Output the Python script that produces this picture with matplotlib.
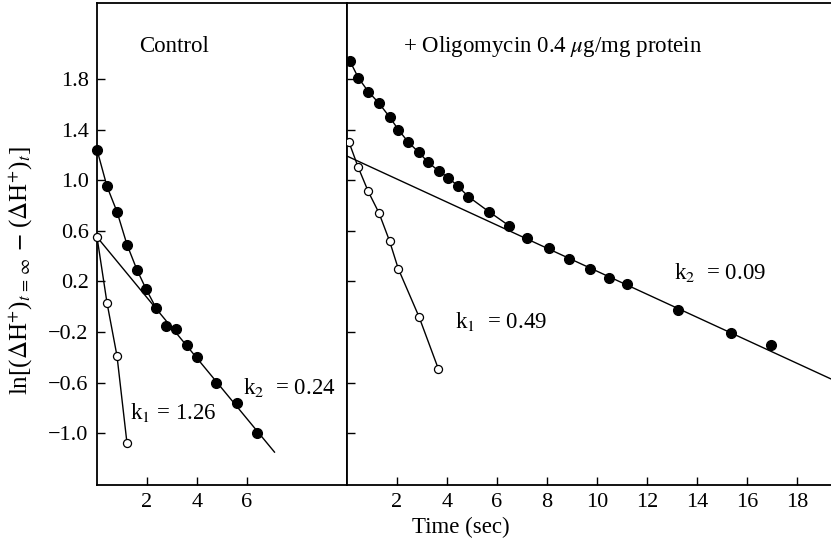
"""
Proton efflux kinetics, control vs oligomycin (semi-log plot).
"""

import matplotlib.pyplot as plt

# Control panel
ctrl_t_filled = [0.0, 0.4, 0.8, 1.2, 1.6, 1.96, 2.36, 2.76, 3.16, 3.6, 4.0, 4.76, 5.6, 6.4]
ctrl_y_filled = [1.24, 0.95, 0.75, 0.49, 0.29, 0.14, -0.01, -0.15, -0.18, -0.30, -0.40, -0.60, -0.76, -1.0]
ctrl_t_open = [0.0, 0.4, 0.8, 1.2]
ctrl_y_open = [0.55, 0.03, -0.39, -1.08]
ctrl_k2_t = [0.0, 7.1]
ctrl_k2_y = [0.55, -1.15]

# Oligomycin panel
olig_t_filled = [0.12, 0.45, 0.85, 1.27, 1.7, 2.05, 2.45, 2.87, 3.25, 3.68, 4.05, 4.45, 4.85,
                 5.68, 6.48, 7.2, 8.08, 8.88, 9.72, 10.48, 11.2, 13.24, 15.36, 16.96]
olig_y_filled = [1.94, 1.81, 1.70, 1.61, 1.50, 1.40, 1.30, 1.22, 1.14, 1.07, 1.02, 0.95, 0.87,
                 0.75, 0.64, 0.54, 0.46, 0.38, 0.30, 0.23, 0.18, -0.03, -0.21, -0.30]
olig_t_open = [0.08, 0.45, 0.85, 1.28, 1.7, 2.05, 2.88, 3.65]
olig_y_open = [1.30, 1.10, 0.91, 0.74, 0.52, 0.30, -0.08, -0.49]
olig_k2_t = [0.0, 20.0]
olig_k2_y = [1.19, -0.63]

yticks = [1.8, 1.4, 1.0, 0.6, 0.2, -0.2, -0.6, -1.0]
ytick_labels = ["1.8", "1.4", "1.0", "0.6", "0.2", "\u22120.2", "\u22120.6", "\u22121.0"]

plt.rcParams["font.family"] = ["Liberation Serif", "DejaVu Serif"]
plt.rcParams["mathtext.fontset"] = "stix"

fig = plt.figure(figsize=(8.31, 5.42), dpi=100)
ax1 = fig.add_axes([97 / 831, 57 / 542, 250 / 831, 482 / 542])
ax2 = fig.add_axes([347 / 831, 57 / 542, 484 / 831, 482 / 542])

ylim = (-1.41, 2.40)
fs = 16.5
line_kw = dict(color="black", lw=1.0, zorder=2)
filled_kw = dict(marker="o", ls="none", ms=7, mfc="black", mec="black", zorder=3)
open_kw = dict(marker="o", ls="none", ms=5.8, mfc="white", mec="black", mew=0.9, zorder=3)

# left panel
ax1.plot(ctrl_t_filled[:7], ctrl_y_filled[:7], **line_kw)
ax1.plot(ctrl_k2_t, ctrl_k2_y, **line_kw)
ax1.plot(ctrl_t_open, ctrl_y_open, **line_kw)
ax1.plot(ctrl_t_filled, ctrl_y_filled, clip_on=False, **filled_kw)
ax1.plot(ctrl_t_open, ctrl_y_open, clip_on=False, **open_kw)
ax1.set_xlim(0, 10)
ax1.set_ylim(*ylim)
ax1.set_xticks([2, 4, 6])
ax1.set_yticks(yticks)
ax1.set_yticklabels(ytick_labels)
ax1.text(1.7, 2.06, "Control", fontsize=fs, va="center")
ax1.text(1.32, -0.84, "k$_1$ = 1.26", fontsize=fs, va="center")
ax1.text(5.84, -0.64, "k$_2$  = 0.24", fontsize=fs, va="center", clip_on=False)

# right panel
ax2.plot(olig_t_filled[:15], olig_y_filled[:15], **line_kw)
ax2.plot(olig_k2_t, olig_k2_y, **line_kw)
ax2.plot(olig_t_open, olig_y_open, **line_kw)
ax2.plot(olig_t_filled, olig_y_filled, **filled_kw)
ax2.plot(olig_t_open, olig_y_open, **open_kw)
ax2.set_xlim(0, 19.36)
ax2.set_ylim(*ylim)
ax2.set_xticks(range(2, 20, 2))
ax2.set_yticks(yticks)
ax2.set_yticklabels([])
ax2.spines["right"].set_visible(False)
ax2.text(2.24, 2.06, "+ Oligomycin 0.4 $\\mu$g/mg protein", fontsize=fs, va="center")
ax2.text(4.32, -0.12, "k$_1$  = 0.49", fontsize=fs, va="center")
ax2.text(13.1, 0.27, "k$_2$  = 0.09", fontsize=fs, va="center")

for ax in (ax1, ax2):
    ax.tick_params(direction="in", length=6, width=1, labelsize=16, pad=6)
    for s in ax.spines.values():
        s.set_linewidth(1.3)

fig.text(21 / 831, 1 - 271 / 542,
         r"ln[($\Delta$H$^{+}$)$_{t\,=\,\infty}$ $-$ ($\Delta$H$^{+}$)$_t$]",
         fontsize=18, rotation=90, ha="center", va="center")
fig.text(461 / 831, 15 / 542, "Time (sec)", fontsize=fs, ha="center", va="center")

fig.savefig("out.png", dpi=100)
